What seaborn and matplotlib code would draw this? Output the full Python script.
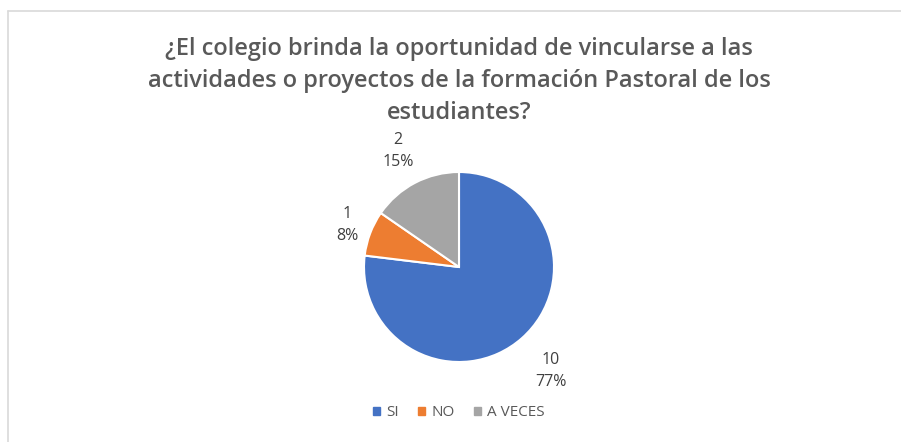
import matplotlib
matplotlib.use("Agg")
import numpy as np
import matplotlib.pyplot as plt
import seaborn as sns
from matplotlib.lines import Line2D

# Data
categories = ["SI", "NO", "A VECES"]
counts = [10, 1, 2]
colors = ["#4472C4", "#ED7D31", "#A5A5A5"]
title = ("¿El colegio brinda la oportunidad de vincularse a las\n"
         "actividades o proyectos de la formación Pastoral de los\n"
         "estudiantes?")
label_dist = [1.46, 1.26, 1.38]  # how far out each data label sits (in radii)

sns.set_style("white")
plt.rcParams['font.family'] = ['Open Sans', 'DejaVu Sans']

W, H = 901, 442
fig = plt.figure(figsize=(W / 100, H / 100), dpi=100)

# light frame of the chart area
fig.add_artist(Line2D([8 / W, 8 / W], [0, 1 - 11 / H], color="#d9d9d9", lw=1.2))
fig.add_artist(Line2D([8 / W, 1], [1 - 11 / H, 1 - 11 / H], color="#d9d9d9", lw=1.2))

# pie centred at (459, 267) px, radius 95 px
cx, cy, r = 459, 267, 95
ax = fig.add_axes([(cx - r) / W, (H - cy - r) / H, 2 * r / W, 2 * r / H])

total = sum(counts)
labels = [f"{c}\n{round(100 * c / total)}%" for c in counts]
wedges, texts = ax.pie(counts, colors=colors, startangle=90, counterclock=False,
                       labels=labels,
                       wedgeprops=dict(edgecolor="white", linewidth=1.5),
                       textprops=dict(color="#404040", fontsize=11.5))
for w, t, d in zip(wedges, texts, label_dist):
    mid = np.deg2rad((w.theta1 + w.theta2) / 2)
    t.set_position((d * np.cos(mid), d * np.sin(mid)))
    t.set_ha("center")
    t.set_va("center")
    t.set_linespacing(1.5)
ax.set_xlim(-1, 1)
ax.set_ylim(-1, 1)
ax.set_aspect("equal")
ax.axis("off")

fig.text(cx / W, 1 - 81 / H, title, ha="center", va="center",
         fontsize=17, color="#595959", fontweight="semibold", linespacing=1.42)

handles = [plt.Rectangle((0, 0), 1, 1, color=c) for c in colors]
fig.legend(handles, categories, loc="center", bbox_to_anchor=(cx / W, 1 - 413 / H),
           ncol=3, frameon=False, fontsize=11, labelcolor="#595959",
           handlelength=0.45, handleheight=0.45, handletextpad=0.4, columnspacing=1.3)

fig.savefig("out.png", dpi=100, facecolor="white")
